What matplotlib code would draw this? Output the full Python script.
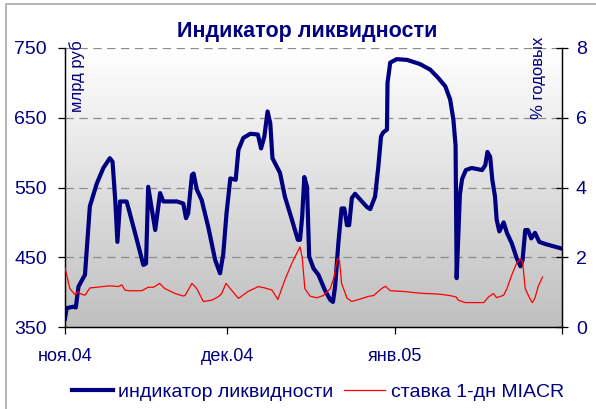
import matplotlib
matplotlib.use("Agg")
import matplotlib.pyplot as plt
import numpy as np
from matplotlib.lines import Line2D

plt.rcParams['font.family'] = ['Liberation Sans', 'DejaVu Sans']
plt.rcParams['lines.scale_dashes'] = False

# --- data (days since 1 Nov 2004) ---
liq_days = [0.0, 0.3, 1.5, 2.0, 2.5, 3.7, 4.6, 5.9, 7.1, 8.3, 8.8, 9.3, 9.7, 10.2, 11.4,
            12.0, 13.3, 14.5, 15.0, 15.4, 16.7, 17.6, 18.2, 20.7, 21.9, 22.4, 22.8, 23.5,
            23.8, 24.4, 25.3, 26.5, 27.8, 28.7, 29.3, 29.9, 30.6, 31.6, 32.1, 33.0, 34.3,
            35.7, 36.3, 36.9, 37.5, 38.0, 38.4, 39.2, 39.8, 40.7, 42.0, 43.1, 43.5, 43.9,
            44.3, 44.8, 45.2, 46.0, 46.9, 48.1, 49.1, 49.6, 50.0, 50.6, 51.2, 51.7, 52.2,
            52.6, 53.1, 53.7, 54.6, 55.9, 56.5, 57.4, 58.0, 58.5, 58.9, 59.6, 59.7, 60.2,
            61.4, 63.3, 65.7, 67.6, 69.1, 70.4, 71.3, 71.9, 72.3, 72.5, 72.9, 73.1, 73.5,
            74.2, 75.3, 77.2, 77.8, 78.2, 78.7, 79.1, 79.6, 79.9, 80.4, 81.2, 81.8, 82.7,
            83.6, 84.3, 84.7, 85.2, 85.7, 86.3, 87.0, 87.8, 88.9, 91.7]
liq_values = [362, 377, 379, 378, 408, 425, 523, 556, 578, 592, 587, 532, 472, 530, 530,
              513, 475, 439, 441, 551, 489, 542, 530, 530, 527, 506, 513, 568,
              570, 547, 532, 494, 446, 427, 455, 513, 563, 561, 604, 621, 627,
              626, 606, 623, 659, 642, 592, 580, 571, 537, 504, 475, 475, 508,
              565, 551, 451, 434, 425, 403, 389, 386, 408, 470, 520, 520, 496,
              496, 535, 541, 533, 522, 519, 537, 580, 623, 629, 633, 700, 729,
              734, 733, 727, 719, 707, 695, 676, 647, 610, 420, 500, 540, 562,
              575, 578, 575, 582, 601, 594, 561, 537, 504, 487, 500, 485, 470,
              449, 437, 446, 489, 489, 477, 485, 472, 469, 463]

rate_days = [0.0, 0.9, 1.5, 1.9, 2.4, 2.9, 3.7, 4.6, 5.9, 8.3, 9.9, 10.5, 11.1, 11.7,
             14.2, 15.4, 16.4, 17.5, 18.5, 20.4, 21.8, 22.2, 23.5, 24.4, 25.6, 27.2,
             28.4, 29.0, 29.8, 30.6, 32.1, 33.9, 35.8, 37.0, 38.3, 39.4, 40.7, 42.0,
             43.5, 43.9, 44.4, 45.4, 46.6, 47.8, 49.1, 49.8, 50.4, 50.8, 51.2, 52.2,
             53.1, 54.6, 56.2, 57.1, 58.6, 59.3, 60.2, 62.6, 65.7, 69.4, 71.3, 72.4,
             72.8, 74.1, 77.5, 78.4, 79.3, 79.9, 81.2, 81.8, 82.7, 83.6, 84.3, 84.7,
             85.2, 86.0, 86.5, 87.0, 87.6, 88.4]
rate_values = [1.70, 1.10, 0.99, 0.92, 1.02, 0.95, 0.91, 1.12, 1.14, 1.18, 1.16, 1.21, 1.06, 1.04,
               1.04, 1.14, 1.14, 1.25, 1.10, 0.96, 0.89, 0.90, 1.25, 1.10, 0.73, 0.77,
               0.87, 0.96, 1.25, 1.10, 0.82, 1.02, 1.16, 1.12, 1.06, 0.79, 1.35, 1.83,
               2.30, 2.00, 1.10, 0.88, 0.84, 0.90, 1.10, 1.43, 1.96, 1.92, 1.25, 0.83,
               0.73, 0.80, 0.88, 0.90, 1.10, 1.17, 1.04, 1.02, 0.97, 0.94, 0.90, 0.86,
               0.77, 0.70, 0.70, 0.86, 0.96, 0.84, 0.91, 1.10, 1.49, 1.83, 1.96, 1.87,
               1.10, 0.83, 0.70, 0.83, 1.17, 1.43]

month_ticks = [0, 30, 61, 92]
month_labels = ['ноя.04', 'дек.04', 'янв.05', '']
left_ticks = [350, 450, 550, 650, 750]
right_ticks = [0, 2, 4, 6, 8]

navy = '#000080'
W, H = 596, 409
fig = plt.figure(figsize=(W / 100, H / 100), dpi=100)
fig.patch.set_facecolor('white')

# chart-area border (left and top edges visible)
fig.add_artist(Line2D([6 / W, 6 / W, 1.0], [0.0, 1 - 4 / H, 1 - 4 / H], transform=fig.transFigure,
                      color='#a8a8a8', linewidth=1.2))

L, R, T, B = 65, 562, 48, 327
ax = fig.add_axes([L / W, 1 - B / H, (R - L) / W, (B - T) / H])
ax2 = ax.twinx()

# gradient background
grad = np.linspace(1.0, 0.75, 256).reshape(-1, 1)
img = np.dstack([grad, grad, grad])
ax.imshow(img, extent=[0, 1, 0, 1], transform=ax.transAxes, aspect='auto', zorder=0)

ax.set_xlim(0, 92)
ax.set_ylim(350, 750)
ax2.set_ylim(0, 8)

for v in [450, 550, 650, 750]:
    ax.axhline(v, color='#8c8c8c', linewidth=0.9, linestyle=(0, (6, 4)), zorder=1)

ax.plot(liq_days, liq_values, color=navy, linewidth=3.0, solid_joinstyle='round', zorder=3)
ax2.plot(rate_days, rate_values, color='#ff0000', linewidth=0.9, zorder=3)
ax2.patch.set_visible(False)

ax.set_xticks(month_ticks)
ax.set_xticklabels(month_labels)
ax.set_yticks(left_ticks)
ax2.set_yticks(right_ticks)

for a in (ax, ax2):
    for s in a.spines.values():
        s.set_color('black')
        s.set_linewidth(0.9)
    a.spines['top'].set_visible(False)

ax.tick_params(axis='y', direction='out', length=5, width=0.9, pad=8, labelsize=14, labelcolor=navy)
ax.tick_params(axis='x', direction='out', length=5, width=0.9, pad=10, labelsize=13, labelcolor=navy)
ax2.tick_params(axis='y', direction='inout', length=8, width=0.9, pad=6, labelsize=14, labelcolor=navy)

fig.text(307 / W, 1 - 32 / H, 'Индикатор ликвидности', ha='center', va='center',
         fontsize=15.5, fontweight='bold', color=navy)
fig.text(77 / W, 1 - 40 / H, 'млрд руб', rotation=90, ha='center', va='top',
         fontsize=12, color=navy)
fig.text(539 / W, 1 - 37 / H, '% годовых', rotation=90, ha='center', va='top',
         fontsize=12, color=navy)

handles = [Line2D([], [], color=navy, linewidth=3.0),
           Line2D([], [], color='#ff0000', linewidth=0.9)]
fig.legend(handles, ['индикатор ликвидности', 'ставка 1-дн MIACR'], loc='center',
           bbox_to_anchor=(318 / W, 1 - 392 / H), ncol=2, frameon=False, fontsize=14,
           handlelength=2.1, handletextpad=0.3, columnspacing=0.55, labelcolor=navy)

fig.savefig('out.png', dpi=100)
